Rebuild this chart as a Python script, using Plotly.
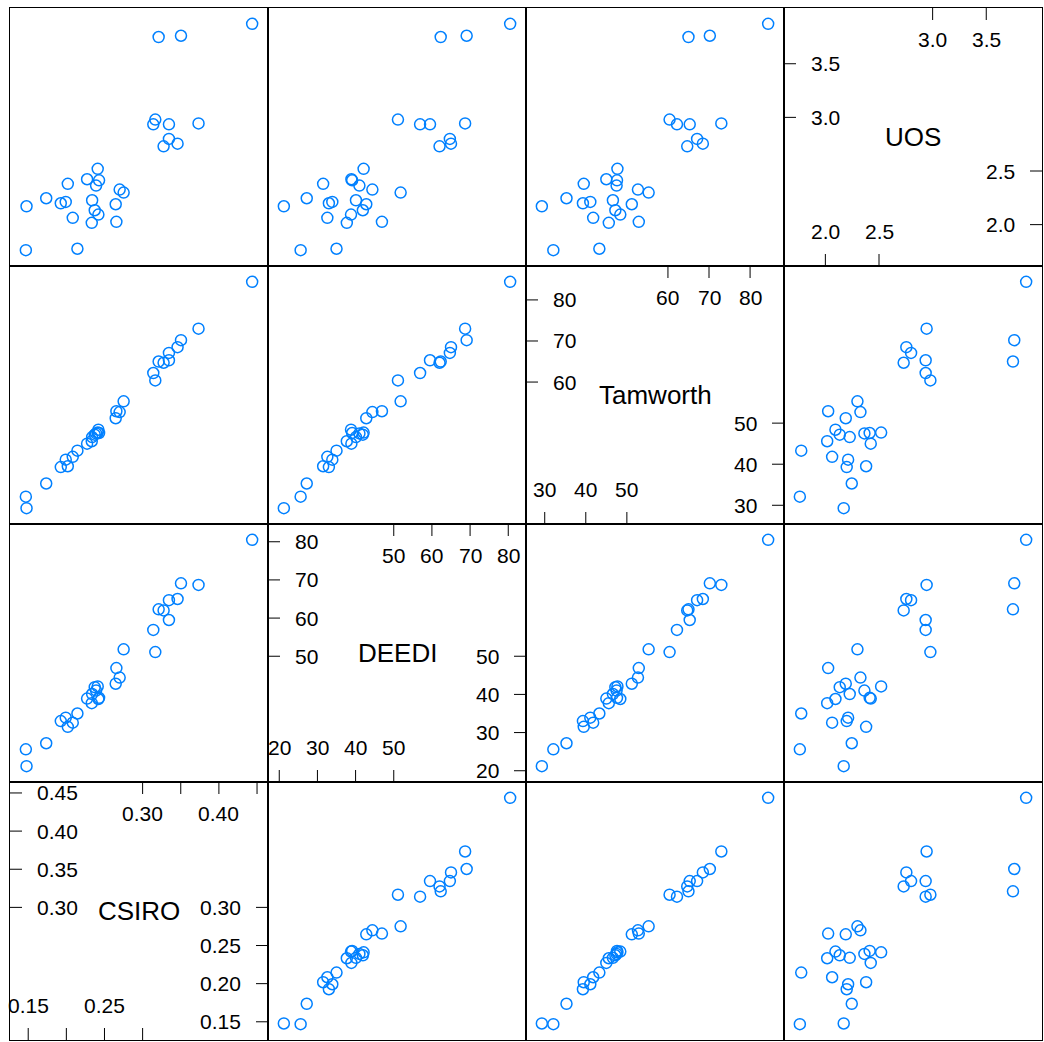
import plotly.graph_objects as go
from plotly.subplots import make_subplots

# ---------------- data ----------------
VARS = ["CSIRO", "DEEDI", "Tamworth", "UOS"]

CSIRO = [0.4436, 0.3210, 0.3503, 0.3166, 0.3140, 0.3345, 0.3733, 0.3345, 0.3458, 0.3275,
         0.2411, 0.2272, 0.2429, 0.2390, 0.2019, 0.2699, 0.2751, 0.1736, 0.1927, 0.1992,
         0.2338, 0.1478, 0.2647, 0.2372, 0.2420, 0.2084, 0.2333, 0.2656, 0.1469, 0.2145]
DEEDI = [80.5, 62.3, 69.1, 51.1, 56.9, 59.5, 68.7, 64.7, 65.0, 62.0,
         42.1, 38.9, 39.1, 41.0, 31.5, 44.4, 51.8, 27.2, 33.0, 33.9,
         40.1, 21.2, 42.8, 41.9, 38.8, 32.6, 37.7, 46.9, 25.6, 35.0]
TAMWORTH = [84.4, 65.0, 70.2, 60.4, 62.2, 65.3, 73.0, 67.1, 68.5, 64.7,
            47.7, 45.0, 47.6, 47.5, 39.5, 52.7, 55.3, 35.3, 39.3, 41.1,
            46.6, 29.3, 51.2, 47.2, 48.4, 41.8, 45.6, 52.9, 32.1, 43.3]
UOS = [3.872, 3.749, 3.761, 2.979, 2.935, 2.935, 2.944, 2.799, 2.755, 2.730,
       2.520, 2.423, 2.413, 2.364, 2.380, 2.327, 2.299, 2.246, 2.199, 2.212,
       2.227, 2.171, 2.190, 2.134, 2.094, 2.063, 2.017, 2.026, 1.762, 1.775]

CSIRO_TICKS = [0.15, 0.20, 0.25, 0.30, 0.35, 0.40, 0.45]
DEEDI_TICKS = [20, 30, 40, 50, 60, 70, 80]
TAMWORTH_TICKS = [30, 40, 50, 60, 70, 80]
UOS_TICKS = [2.0, 2.5, 3.0, 3.5]

CSIRO_LABELS = ["0.15", "0.20", "0.25", "0.30", "0.35", "0.40", "0.45"]
DEEDI_LABELS = ["20", "30", "40", "50", "60", "70", "80"]
TAMWORTH_LABELS = ["30", "40", "50", "60", "70", "80"]
UOS_LABELS = ["2.0", "2.5", "3.0", "3.5"]

data = {"CSIRO": CSIRO, "DEEDI": DEEDI, "Tamworth": TAMWORTH, "UOS": UOS}
ticks = {"CSIRO": (CSIRO_TICKS, CSIRO_LABELS), "DEEDI": (DEEDI_TICKS, DEEDI_LABELS),
         "Tamworth": (TAMWORTH_TICKS, TAMWORTH_LABELS), "UOS": (UOS_TICKS, UOS_LABELS)}

# ---------------- style ----------------
FONT = "Liberation Sans, Arial, Helvetica, sans-serif"
COL = "#0080FF"
W, H = 1044, 1042
ML, MR, MT, MB = 10, 2, 8, 2
PANEL = (W - ML - MR) / 4.0
TICK_FS = 21
NAME_FS = 26
TCK = 12


def padded(v, pad=0.07):
    lo, hi = min(v), max(v)
    d = hi - lo
    return [lo - pad * d, hi + pad * d]


ranges = {k: padded(v) for k, v in data.items()}

fig = make_subplots(rows=4, cols=4, horizontal_spacing=0, vertical_spacing=0)

shapes = []
annotations = []

for r in range(4):
    yv = VARS[3 - r]
    for c in range(4):
        xv = VARS[c]
        k = r * 4 + c + 1
        xa = "x" if k == 1 else f"x{k}"
        ya = "y" if k == 1 else f"y{k}"
        axkw = dict(showticklabels=False, ticks="", showgrid=False, zeroline=False,
                    showline=True, mirror=True, linecolor="black", linewidth=1,
                    fixedrange=True)
        fig.update_xaxes(range=ranges[xv], row=r + 1, col=c + 1, **axkw)
        fig.update_yaxes(range=ranges[yv], row=r + 1, col=c + 1, **axkw)
        if xv != yv:
            fig.add_trace(go.Scatter(
                x=data[xv], y=data[yv], mode="markers",
                marker=dict(symbol="circle-open", size=11, color=COL,
                            line=dict(width=1.5, color=COL)),
                showlegend=False, hoverinfo="skip"), row=r + 1, col=c + 1)
            continue

        # ---- diagonal panel: name and half axes ----
        annotations.append(dict(text=xv, xref=f"{xa} domain", yref=f"{ya} domain",
                                x=0.5, y=0.5, showarrow=False,
                                font=dict(family=FONT, size=NAME_FS, color="black")))
        tv, tl = ticks[xv]
        n = len(tv)
        h = (n + 1) // 2
        low_idx = list(range(0, h))
        up_idx = list(range(n - h, n))
        lo, hi = ranges[xv]
        ppu = PANEL / (hi - lo)
        spacing = (tv[1] - tv[0]) * ppu
        lab_w = max(len(s) for s in tl) * 0.5 * TICK_FS
        step = 1 if lab_w < spacing * 0.95 else 2

        # bottom (lower half) and top (upper half) x ticks
        for side, idxs in (("bottom", low_idx), ("top", up_idx)):
            for j, i in enumerate(idxs):
                anc = 0 if side == "bottom" else 1
                sgn = 1 if side == "bottom" else -1
                shapes.append(dict(type="line", xref=xa, yref=f"{ya} domain",
                                   x0=tv[i], x1=tv[i], ysizemode="pixel", yanchor=anc,
                                   y0=0, y1=sgn * TCK, line=dict(color="black", width=1)))
                if j % step == 0:
                    annotations.append(dict(text=tl[i], xref=xa, yref=f"{ya} domain",
                                            x=tv[i], y=anc, yanchor="middle", xanchor="center",
                                            yshift=(35 if side == "bottom" else -31),
                                            showarrow=False,
                                            font=dict(family=FONT, size=TICK_FS, color="black")))
        # left (upper half) and right (lower half) y ticks
        for side, idxs in (("left", up_idx), ("right", low_idx)):
            for i in idxs:
                anc = 0 if side == "left" else 1
                sgn = 1 if side == "left" else -1
                shapes.append(dict(type="line", xref=f"{xa} domain", yref=ya,
                                   y0=tv[i], y1=tv[i], xsizemode="pixel", xanchor=anc,
                                   x0=0, x1=sgn * TCK, line=dict(color="black", width=1)))
                annotations.append(dict(text=tl[i], xref=f"{xa} domain", yref=ya,
                                        x=anc, y=tv[i], yanchor="middle",
                                        xanchor="left" if side == "left" else "right",
                                        xshift=sgn * 25, showarrow=False,
                                        font=dict(family=FONT, size=TICK_FS, color="black")))

fig.update_layout(width=W, height=H, margin=dict(l=ML, r=MR, t=MT, b=MB),
                  paper_bgcolor="white", plot_bgcolor="white",
                  font=dict(family=FONT, color="black"),
                  shapes=shapes, annotations=annotations, showlegend=False)

fig.write_html("out.html")
